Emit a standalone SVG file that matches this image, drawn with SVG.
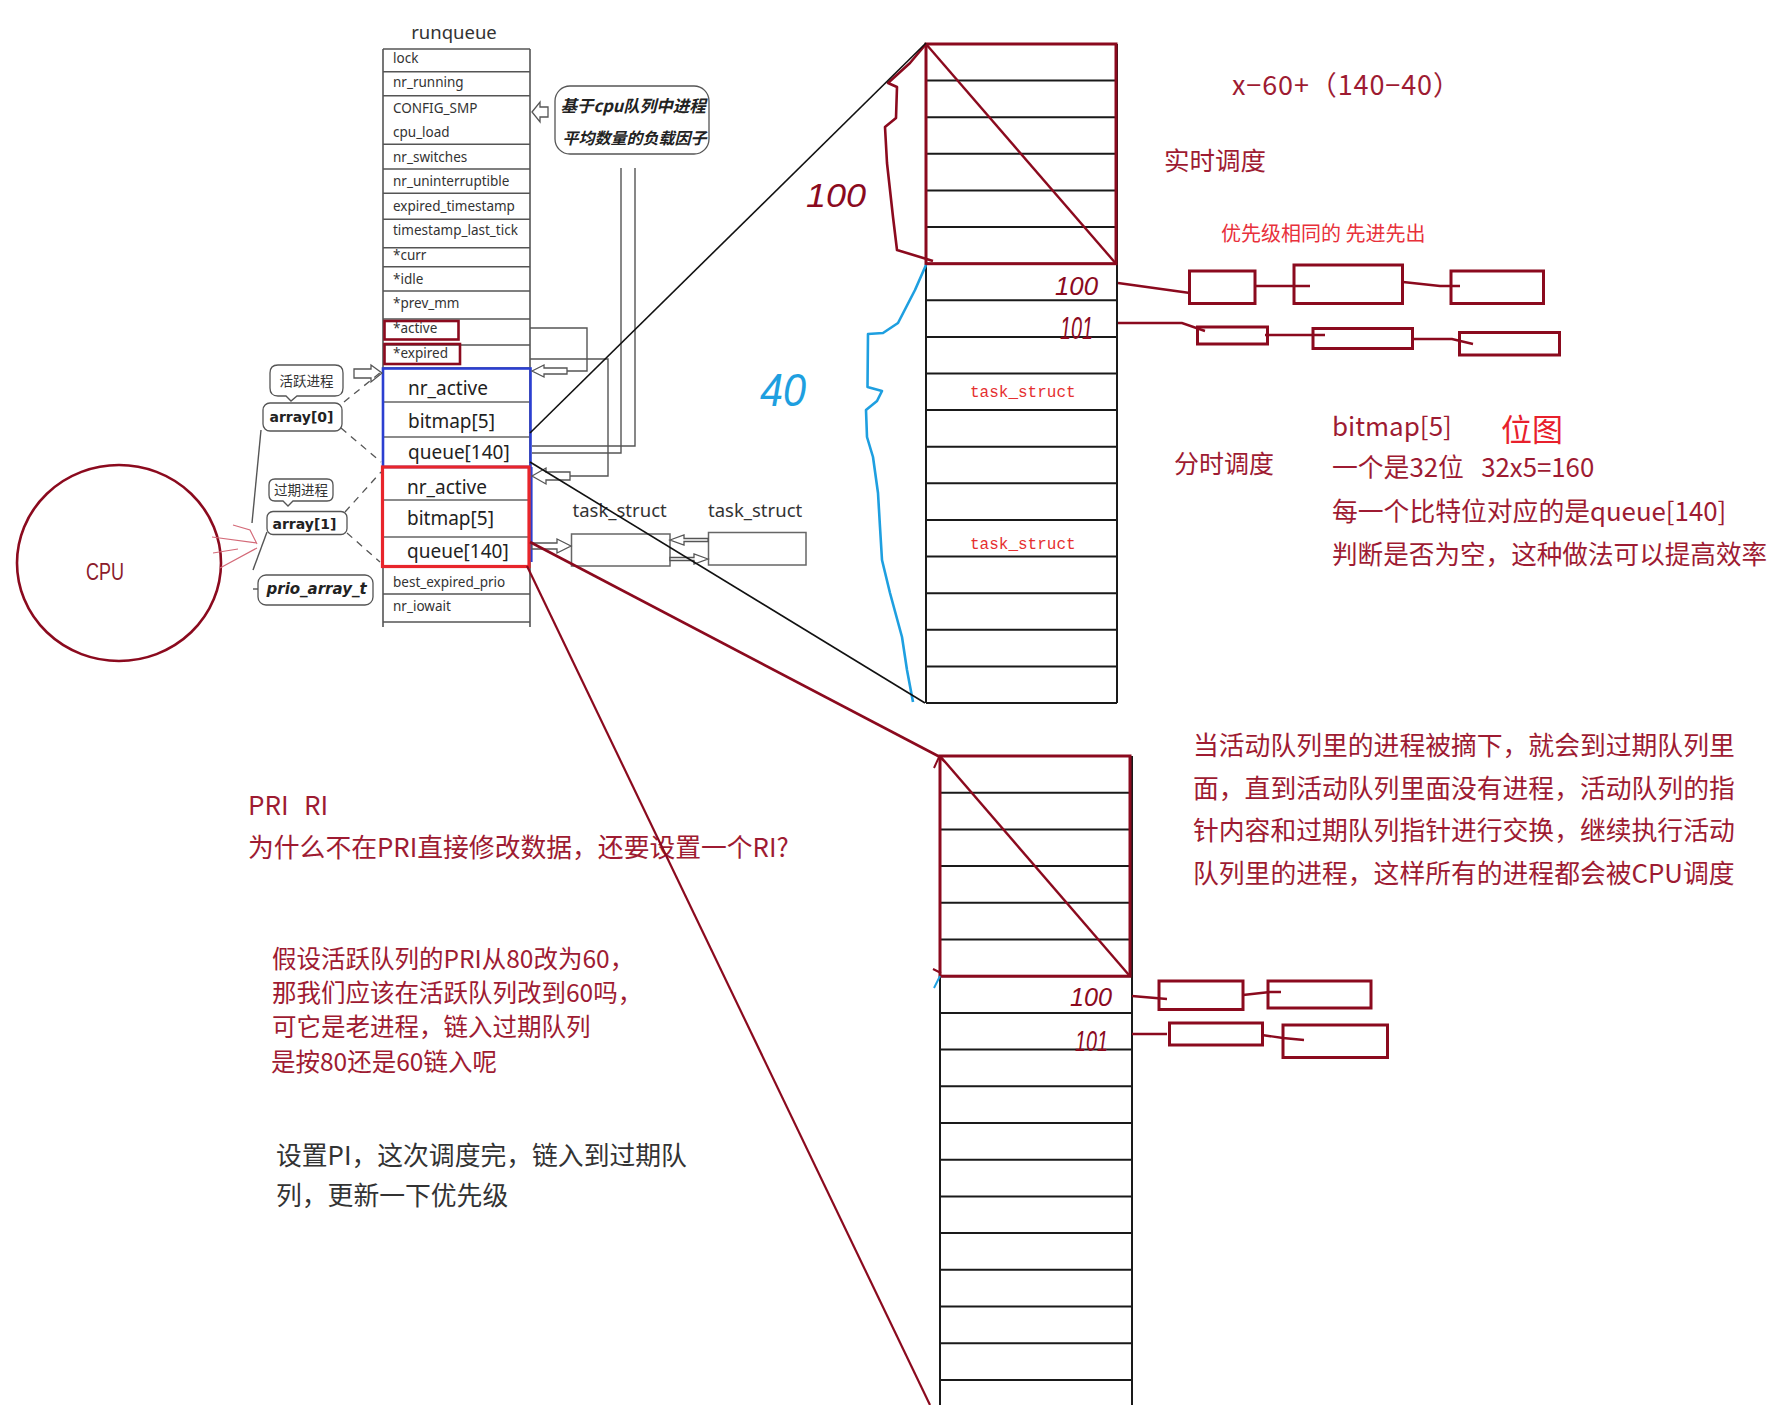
<svg xmlns="http://www.w3.org/2000/svg" width="1787" height="1405" viewBox="0 0 1787 1405">
<style>
.bg{fill:#fff}
.cell{fill:none;stroke:#555;stroke-width:1.6}
.row{font-family:"Noto Sans","Liberation Sans",sans-serif;font-size:13.5px;fill:#333}
.arr{font-family:"Noto Sans","Liberation Sans",sans-serif;font-size:19px;fill:#222}
.grid{stroke:#1a1a1a;stroke-width:2;fill:none}
.dred{stroke:#8b0a1e;fill:none;stroke-width:3}
.dred2{stroke:#8b0a1e;fill:none;stroke-width:2.4}
.hand{font-family:"Liberation Sans","DejaVu Sans",sans-serif;font-style:italic;fill:#8b0a1e}
.cn{font-family:"Noto Sans CJK SC","Noto Sans",sans-serif}
.redtxt{fill:#9e1b32}
.ts{font-family:"Liberation Mono","DejaVu Sans Mono",monospace;font-size:16px;fill:#e53030}
.bubble{fill:#fff;stroke:#555;stroke-width:1.3}
.conn{fill:none;stroke:#555;stroke-width:1.4}
.dash{fill:none;stroke:#555;stroke-width:1.3;stroke-dasharray:7 6}
.harrow{fill:#fff;stroke:#555;stroke-width:1.3}
.lbox{fill:none;stroke:#8b0a1e;stroke-width:3}
</style>
<rect class="bg" x="0" y="0" width="1787" height="1405"/>

<!-- runqueue table -->
<g id="runqueue">
  <text x="454" y="39" text-anchor="middle" font-family="Noto Sans, Liberation Sans, sans-serif" font-size="18.5" fill="#333">runqueue</text>
  <path class="cell" d="M383,49 H530 M383,49 V627 M530,49 V627 M383,71.7 H530 M383,95.7 H530 M383,144.3 H530 M383,169 H530 M383,193.3 H530 M383,219.3 H530 M383,247.7 H530 M383,266.7 H530 M383,291 H530 M383,319 H530 M383,345 H530 M383,368 H530 M383,594 H530 M383,622 H530"/>
  <text class="row" x="393" y="62.7">lock</text>
  <text class="row" x="393" y="86.5">nr_running</text>
  <text class="row" x="393" y="112.5">CONFIG_SMP</text>
  <text class="row" x="393" y="136.5">cpu_load</text>
  <text class="row" x="393" y="161.5">nr_switches</text>
  <text class="row" x="393" y="186">nr_uninterruptible</text>
  <text class="row" x="393" y="210.5">expired_timestamp</text>
  <text class="row" x="393" y="235">timestamp_last_tick</text>
  <text class="row" x="393" y="260">*curr</text>
  <text class="row" x="393" y="284">*idle</text>
  <text class="row" x="393" y="308.3">*prev_mm</text>
  <text class="row" x="393" y="333.3">*active</text>
  <text class="row" x="393" y="358.3">*expired</text>
  <text class="row" x="393" y="586.5">best_expired_prio</text>
  <text class="row" x="393" y="610.5">nr_iowait</text>
</g>

<g id="active-mark"><rect x="384.5" y="321" width="74" height="18.5" fill="none" stroke="#8b0a1e" stroke-width="2.6"/></g>
<g id="expired-mark"><rect x="384.5" y="344" width="75.5" height="20" fill="none" stroke="#8b0a1e" stroke-width="2.6"/></g>

<g id="array0-struct">
  <path d="M383,402 H530 M383,437 H530" stroke="#666" stroke-width="1.4"/>
  <rect x="383" y="368.5" width="147.5" height="98.5" fill="none" stroke="#2b3fd1" stroke-width="2.6"/>
  <line x1="531.5" y1="467" x2="531.5" y2="562" stroke="#2b3fd1" stroke-width="2.2"/>
  <text class="arr" x="408" y="395">nr_active</text>
  <text class="arr" x="408" y="427.5">bitmap[5]</text>
  <text class="arr" x="408" y="458.5">queue[140]</text>
</g>
<g id="array1-struct">
  <path d="M383,500 H530 M383,537 H530" stroke="#666" stroke-width="1.4"/>
  <rect x="382.5" y="467" width="146.5" height="99.5" fill="none" stroke="#e8252b" stroke-width="3.2"/>
  <text class="arr" x="407" y="493.5">nr_active</text>
  <text class="arr" x="407" y="525">bitmap[5]</text>
  <text class="arr" x="407" y="557.5">queue[140]</text>
</g>

<!-- left labels -->
<g id="label-active">
  <path class="bubble" d="M278,365 H335 Q343,365 343,373 V388 Q343,396 335,396 H297 L291,401 L286,396 H278 Q270,396 270,388 V373 Q270,365 278,365 Z"/>
  <text class="cn" x="306.5" y="386" text-anchor="middle" font-size="13.5" fill="#333">活跃进程</text>
</g>
<g id="array0">
  <rect class="bubble" x="263" y="403" width="79" height="28" rx="7"/>
  <text x="269.5" y="422" font-family="DejaVu Sans, sans-serif" font-weight="bold" font-size="14" fill="#222">array[0]</text>
</g>
<g id="label-expired">
  <path class="bubble" d="M275,479 H327 Q333,479 333,485 V495 Q333,501 327,501 H293 L288,506 L283,501 H275 Q269,501 269,495 V485 Q269,479 275,479 Z"/>
  <text class="cn" x="301" y="494.5" text-anchor="middle" font-size="13.5" fill="#333">过期进程</text>
</g>
<g id="array1">
  <rect class="bubble" x="267" y="511.5" width="80" height="23" rx="6"/>
  <text x="272.5" y="528.5" font-family="DejaVu Sans, sans-serif" font-weight="bold" font-size="14" fill="#222">array[1]</text>
</g>
<g id="prio-array-t">
  <rect class="bubble" x="258" y="575" width="115" height="30" rx="8"/>
  <text x="266.5" y="594" font-family="DejaVu Sans, sans-serif" font-weight="bold" font-style="italic" font-size="15" fill="#222">prio_array_t</text>
</g>

<g id="cpu">
  <ellipse cx="119" cy="563" rx="102" ry="98" fill="none" stroke="#8b0a1e" stroke-width="2.6"/>
  <text x="86" y="580" font-family="Liberation Sans, sans-serif" font-size="23" fill="#8b1a2b" textLength="38" lengthAdjust="spacingAndGlyphs">CPU</text>
</g>

<g id="callout-load">
  <rect class="bubble" x="555" y="86" width="154" height="68" rx="15"/>
  <text class="cn" x="560.5" y="112" font-size="16.5" font-weight="bold" font-style="italic" fill="#222">基于cpu队列中进程</text>
  <text class="cn" x="562.5" y="143.5" font-size="16" font-weight="bold" font-style="italic" fill="#222">平均数量的负载因子</text>
</g>

<g id="task-struct-1">
  <text x="572.5" y="516.5" font-family="Noto Sans, Liberation Sans, sans-serif" font-size="18.5" fill="#333">task_struct</text>
  <rect x="571.5" y="534" width="98.5" height="32" fill="none" stroke="#666" stroke-width="1.5"/>
</g>
<g id="task-struct-2">
  <text x="708" y="516.5" font-family="Noto Sans, Liberation Sans, sans-serif" font-size="18.5" fill="#333">task_struct</text>
  <rect x="708.5" y="532.5" width="97.5" height="32.5" fill="none" stroke="#666" stroke-width="1.5"/>
</g>

<!-- upper priority queue table -->
<g id="queue-upper">
  <path class="grid" d="M926,44 V703 M1117,44 V703 M926,80.6 H1117 M926,117.2 H1117 M926,153.8 H1117 M926,190.4 H1117 M926,227.1 H1117 M926,263.7 H1117 M926,300.3 H1117 M926,336.9 H1117 M926,373.5 H1117 M926,410.1 H1117 M926,446.7 H1117 M926,483.3 H1117 M926,519.9 H1117 M926,556.5 H1117 M926,593.2 H1117 M926,629.8 H1117 M926,666.4 H1117 M926,703 H1117"/>
  <rect class="dred" x="926" y="44" width="190" height="219.7"/>
  <line class="dred2" x1="926" y1="44" x2="1116" y2="263.7"/>
  <text class="ts" x="970" y="397">task_struct</text>
  <text class="ts" x="970" y="548.5">task_struct</text>
  <text class="hand" x="1055" y="295" font-size="26" textLength="43" lengthAdjust="spacingAndGlyphs">100</text>
  <text class="hand" x="1060" y="339" font-size="32" textLength="33" lengthAdjust="spacingAndGlyphs">101</text>
</g>

<!-- lower priority queue table -->
<g id="queue-lower">
  <path class="grid" d="M940,756 V1405 M1132,756 V1405 M940,792.7 H1132 M940,829.4 H1132 M940,866.1 H1132 M940,902.8 H1132 M940,939.5 H1132 M940,976.2 H1132 M940,1012.9 H1132 M940,1049.6 H1132 M940,1086.3 H1132 M940,1123 H1132 M940,1159.7 H1132 M940,1196.4 H1132 M940,1233.1 H1132 M940,1269.8 H1132 M940,1306.5 H1132 M940,1343.2 H1132 M940,1379.9 H1132"/>
  <rect class="dred" x="940" y="756" width="190" height="220.2"/>
  <line class="dred2" x1="940" y1="756" x2="1130" y2="976.2"/>
  <text class="hand" x="1070" y="1006" font-size="25" textLength="42" lengthAdjust="spacingAndGlyphs">100</text>
  <text class="hand" x="1075" y="1051" font-size="30" textLength="33" lengthAdjust="spacingAndGlyphs">101</text>
</g>

<!-- linked list boxes -->
<g id="list-100-upper">
  <rect class="lbox" x="1189.5" y="271" width="65.5" height="32.5"/>
  <rect class="lbox" x="1294" y="265" width="108.5" height="38.5"/>
  <rect class="lbox" x="1451" y="271" width="92.5" height="32.5"/>
</g>
<g id="list-101-upper">
  <rect class="lbox" x="1197.5" y="327" width="70" height="17"/>
  <rect class="lbox" x="1313" y="328.5" width="99.5" height="20"/>
  <rect class="lbox" x="1459.5" y="332.5" width="100" height="22.5"/>
</g>
<g id="list-100-lower">
  <rect class="lbox" x="1159" y="981" width="84" height="28.5"/>
  <rect class="lbox" x="1268" y="981" width="103" height="27"/>
</g>
<g id="list-101-lower">
  <rect class="lbox" x="1169.5" y="1023" width="93" height="22"/>
  <rect class="lbox" x="1283" y="1025" width="104.5" height="32.5"/>
</g>

<!-- handwritten annotations -->
<g id="brace-100">
  <path d="M926,44 L910,63 L888,83 L897,87 L896,118 L885,127 L887,163 L893,217 L897,250 L920,257 L933,261" fill="none" stroke="#8b0a1e" stroke-width="2.6" stroke-linejoin="round"/>
  <text class="hand" x="806" y="207" font-size="34" textLength="60" lengthAdjust="spacingAndGlyphs">100</text>
</g>
<g id="brace-40">
  <path d="M926,265 L915,290 L898,323 L883,333 L868,334 L867.5,387 L882,391 L877,401 L866,410 L867,437 L873,457 L878,493 L880,527 L882,560 L890,593 L902,637 L907,670 L913,702" fill="none" stroke="#1e9fe0" stroke-width="2.6" stroke-linejoin="round"/>
  <text x="760" y="406" font-family="Liberation Sans, DejaVu Sans, sans-serif" font-style="italic" font-size="46" fill="#1e9fe0" textLength="46" lengthAdjust="spacingAndGlyphs">40</text>
</g>

<!-- texts -->
<g id="notes" class="cn">
  <text x="1232" y="95" font-size="27" class="redtxt" textLength="228" lengthAdjust="spacing">x−60+（140−40）</text>
  <text x="1164" y="170" font-size="25.5" class="redtxt">实时调度</text>
  <text x="1221" y="241" font-size="20" fill="#e8303a">优先级相同的 先进先出</text>
  <text x="1174" y="473" font-size="25" class="redtxt">分时调度</text>
  <text x="1332" y="436" font-size="26" class="redtxt">bitmap[5]</text>
  <text x="1501" y="441" font-size="31" fill="#e8202c">位图</text>
  <text x="1332" y="477" font-size="25.8" class="redtxt" xml:space="preserve">一个是32位   32x5=160</text>
  <text x="1332" y="521" font-size="25.8" class="redtxt">每一个比特位对应的是queue[140]</text>
  <text x="1332" y="564" font-size="25.6" class="redtxt">判断是否为空，这种做法可以提高效率</text>
  <text x="1193" y="755" font-size="25.8" class="redtxt">当活动队列里的进程被摘下，就会到过期队列里</text>
  <text x="1193" y="797.5" font-size="25.8" class="redtxt">面，直到活动队列里面没有进程，活动队列的指</text>
  <text x="1193" y="840" font-size="25.8" class="redtxt">针内容和过期队列指针进行交换，继续执行活动</text>
  <text x="1193" y="882.5" font-size="25.8" class="redtxt">队列里的进程，这样所有的进程都会被CPU调度</text>
  <text x="248" y="815" font-size="26" class="redtxt">PRI<tspan x="304">RI</tspan></text>
  <text x="248" y="857" font-size="25.8" class="redtxt">为什么不在PRI直接修改数据，还要设置一个RI?</text>
  <text x="272" y="968" font-size="24.5" class="redtxt">假设活跃队列的PRI从80改为60，</text>
  <text x="272" y="1002" font-size="24.5" class="redtxt">那我们应该在活跃队列改到60吗，</text>
  <text x="272" y="1035.5" font-size="24.5" class="redtxt">可它是老进程，链入过期队列</text>
  <text x="271" y="1071" font-size="24.5" class="redtxt">是按80还是60链入呢</text>
  <text x="276" y="1165" font-size="25.8" fill="#333">设置PI，这次调度完，链入到过期队</text>
  <text x="276" y="1205" font-size="25.8" fill="#333">列，更新一下优先级</text>
</g>

<!-- connectors -->
<g id="connectors">
  <polyline class="conn" points="530,328 587,328 587,371 567,371"/>
  <polyline class="conn" points="530,359 608,359 608,476 570,476"/>
  <polyline class="conn" points="621,168 621,453 532,453"/>
  <polyline class="conn" points="635,168 635,446 532,446"/>
  <polygon class="harrow" points="532,371 544,365 544,368 567,368 567,374 544,374 544,377"/>
  <polygon class="harrow" points="532,476 546,468 546,472 570,472 570,480 546,480 546,484"/>
  <polygon class="harrow" points="532,112 540,102 540,107 548,107 548,117 540,117 540,122"/>
  <polygon class="harrow" points="571,546 557,539 557,543 532,543 532,549 557,549 557,553"/>
  <polygon class="harrow" points="670,540 684,535 684,538.5 708,538.5 708,541.5 684,541.5 684,545"/>
  <polygon class="harrow" points="708,559 694,554 694,557.5 670,557.5 670,560.5 694,560.5 694,564"/>
  <polygon class="harrow" points="382,373 371,365 371,369 354,369 354,378 371,378 371,382"/>
  <line class="dash" x1="344" y1="402" x2="381" y2="372"/>
  <line class="dash" x1="341" y1="428" x2="381" y2="462"/>
  <line class="dash" x1="345" y1="512" x2="381" y2="472"/>
  <line class="dash" x1="347" y1="533" x2="380" y2="562"/>
  <polyline class="conn" points="261,430 252,523"/>
  <polyline class="conn" points="267,532 253,570"/>
  <line class="conn" x1="253" y1="589" x2="258" y2="589"/>
  <path d="M212,537 L257,543 M213,553 L238,549 M220,568 L257,548 M233,525 L250,530 L257,544" fill="none" stroke="#d46a78" stroke-width="1.2"/>
  <line x1="530" y1="433" x2="926" y2="43" stroke="#111" stroke-width="1.6"/>
  <line x1="530" y1="462" x2="925" y2="703" stroke="#111" stroke-width="1.6"/>
  <line x1="530" y1="542" x2="940" y2="757" stroke="#8b0a1e" stroke-width="2.6"/>
  <line x1="527" y1="566" x2="930" y2="1405" stroke="#8b0a1e" stroke-width="2.2"/>
  <path d="M934,768 L939,757 L945,762 M933,969 L941,973" fill="none" stroke="#8b0a1e" stroke-width="2"/>
  <path d="M934,988 L940,976" fill="none" stroke="#1e9fe0" stroke-width="2"/>
  <path class="dred2" d="M1118,283 L1190,293"/>
  <path class="dred2" d="M1255,286 H1310"/>
  <path class="dred2" d="M1403,282 L1440,286 H1460"/>
  <path class="dred2" d="M1118,323 H1182 L1205,331"/>
  <path class="dred2" d="M1265,335 H1325"/>
  <path class="dred2" d="M1413,339 H1452 L1473,344"/>
  <path class="dred2" d="M1132,996 L1167,999"/>
  <path class="dred2" d="M1243,995 L1270,992 H1281"/>
  <path class="dred2" d="M1132,1034 H1167"/>
  <path class="dred2" d="M1262,1035 L1283,1038 L1304,1040"/>
</g>
</svg>
